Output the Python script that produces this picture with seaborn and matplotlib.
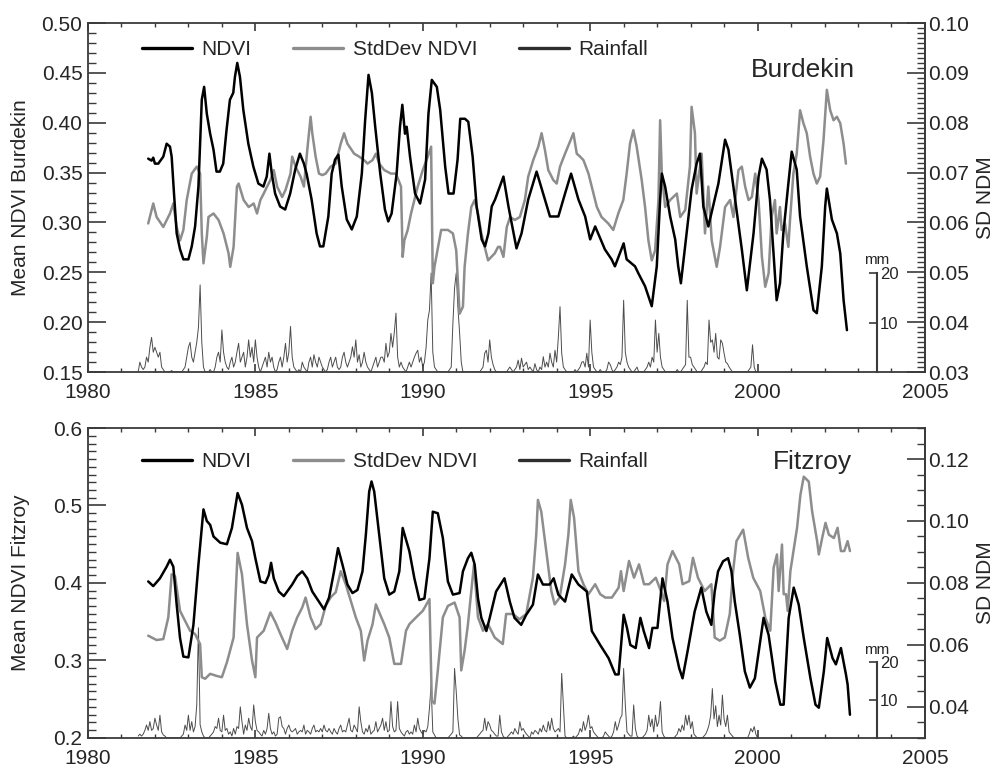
import numpy as np
import seaborn as sns
import matplotlib.pyplot as plt
from matplotlib.ticker import MultipleLocator, FormatStrFormatter
from matplotlib.lines import Line2D

sns.set_style('ticks')
plt.rcParams['font.family'] = ['Liberation Sans', 'DejaVu Sans']

# ---- Burdekin (top panel) ----
ndvi_burdekin = [
    (1981.80, 0.364), (1981.90, 0.362), (1981.95, 0.365), (1982.00, 0.359), (1982.10, 0.359),
    (1982.25, 0.366), (1982.35, 0.379), (1982.45, 0.376), (1982.50, 0.366), (1982.57, 0.329),
    (1982.65, 0.289), (1982.75, 0.273), (1982.85, 0.263), (1983.00, 0.263), (1983.10, 0.276),
    (1983.20, 0.296), (1983.30, 0.336), (1983.40, 0.423), (1983.47, 0.436), (1983.55, 0.409),
    (1983.65, 0.389), (1983.75, 0.373), (1983.84, 0.351), (1983.94, 0.351), (1984.04, 0.359),
    (1984.14, 0.393), (1984.24, 0.423), (1984.34, 0.430), (1984.39, 0.446), (1984.46, 0.460),
    (1984.54, 0.446), (1984.64, 0.413), (1984.79, 0.379), (1984.94, 0.356), (1985.09, 0.339),
    (1985.24, 0.336), (1985.34, 0.346), (1985.42, 0.369), (1985.49, 0.349), (1985.59, 0.329),
    (1985.74, 0.316), (1985.89, 0.313), (1986.04, 0.329), (1986.19, 0.353), (1986.33, 0.369),
    (1986.45, 0.359), (1986.53, 0.349), (1986.68, 0.323), (1986.83, 0.289), (1986.93, 0.276),
    (1987.03, 0.276), (1987.18, 0.306), (1987.28, 0.349), (1987.38, 0.363), (1987.48, 0.368),
    (1987.58, 0.336), (1987.73, 0.303), (1987.88, 0.293), (1988.03, 0.306), (1988.18, 0.349),
    (1988.28, 0.403), (1988.38, 0.448), (1988.48, 0.430), (1988.58, 0.396), (1988.73, 0.349),
    (1988.87, 0.313), (1988.97, 0.301), (1989.07, 0.309), (1989.22, 0.349), (1989.32, 0.396),
    (1989.39, 0.418), (1989.47, 0.389), (1989.52, 0.396), (1989.62, 0.366), (1989.77, 0.329),
    (1989.92, 0.319), (1990.07, 0.343), (1990.17, 0.409), (1990.27, 0.443), (1990.42, 0.436),
    (1990.52, 0.413), (1990.67, 0.356), (1990.77, 0.329), (1990.92, 0.329), (1991.04, 0.363),
    (1991.12, 0.404), (1991.26, 0.404), (1991.36, 0.401), (1991.49, 0.366), (1991.61, 0.316),
    (1991.76, 0.283), (1991.86, 0.276), (1991.96, 0.289), (1992.06, 0.316), (1992.16, 0.323),
    (1992.41, 0.346), (1992.56, 0.316), (1992.80, 0.274), (1992.95, 0.289), (1993.15, 0.323),
    (1993.40, 0.351), (1993.65, 0.323), (1993.80, 0.306), (1994.05, 0.306), (1994.25, 0.329),
    (1994.43, 0.349), (1994.65, 0.323), (1994.85, 0.306), (1995.00, 0.283), (1995.15, 0.296),
    (1995.44, 0.273), (1995.64, 0.263), (1995.74, 0.256), (1996.00, 0.279), (1996.09, 0.263),
    (1996.34, 0.256), (1996.44, 0.249), (1996.64, 0.236), (1996.84, 0.216), (1996.99, 0.256),
    (1997.09, 0.323), (1997.14, 0.349), (1997.24, 0.336), (1997.39, 0.306), (1997.54, 0.283),
    (1997.63, 0.256), (1997.71, 0.239), (1997.88, 0.289), (1998.03, 0.333), (1998.18, 0.359),
    (1998.28, 0.369), (1998.38, 0.316), (1998.53, 0.296), (1998.83, 0.339), (1999.03, 0.383),
    (1999.13, 0.373), (1999.33, 0.323), (1999.53, 0.273), (1999.68, 0.232), (1999.88, 0.289),
    (2000.03, 0.346), (2000.13, 0.364), (2000.27, 0.353), (2000.37, 0.323), (2000.47, 0.273),
    (2000.57, 0.222), (2000.67, 0.239), (2000.77, 0.289), (2000.92, 0.339), (2001.02, 0.371),
    (2001.17, 0.353), (2001.27, 0.306), (2001.47, 0.256), (2001.67, 0.212), (2001.77, 0.209),
    (2001.92, 0.256), (2002.02, 0.316), (2002.07, 0.334), (2002.22, 0.303), (2002.37, 0.289),
    (2002.47, 0.269), (2002.57, 0.222), (2002.67, 0.192),
]

sd_burdekin = [
    (1981.80, 0.0598), (1981.95, 0.0638), (1982.05, 0.0611), (1982.25, 0.0591), (1982.45, 0.0618),
    (1982.55, 0.0638), (1982.65, 0.0591), (1982.75, 0.0564), (1982.85, 0.0585), (1982.95, 0.0645),
    (1983.10, 0.0698), (1983.25, 0.0712), (1983.35, 0.0698), (1983.40, 0.0578), (1983.45, 0.0518),
    (1983.55, 0.0571), (1983.60, 0.0611), (1983.75, 0.0618), (1983.90, 0.0605), (1984.05, 0.0578),
    (1984.20, 0.0538), (1984.25, 0.0511), (1984.35, 0.0551), (1984.45, 0.0672), (1984.50, 0.0678),
    (1984.65, 0.0645), (1984.80, 0.0631), (1984.95, 0.0638), (1985.05, 0.0618), (1985.15, 0.0645),
    (1985.25, 0.0658), (1985.35, 0.0672), (1985.45, 0.0685), (1985.55, 0.0705), (1985.65, 0.0672),
    (1985.80, 0.0651), (1985.90, 0.0665), (1986.05, 0.0698), (1986.10, 0.0732), (1986.20, 0.0712),
    (1986.35, 0.0692), (1986.45, 0.0672), (1986.55, 0.0745), (1986.65, 0.0812), (1986.70, 0.0779),
    (1986.80, 0.0732), (1986.90, 0.0698), (1987.00, 0.0695), (1987.10, 0.0698), (1987.25, 0.0712),
    (1987.40, 0.0718), (1987.55, 0.0758), (1987.65, 0.0779), (1987.75, 0.0758), (1987.95, 0.0738),
    (1988.10, 0.0732), (1988.25, 0.0725), (1988.35, 0.0718), (1988.50, 0.0725), (1988.60, 0.0738),
    (1988.70, 0.0718), (1988.85, 0.0705), (1989.05, 0.0698), (1989.20, 0.0698), (1989.35, 0.0672),
    (1989.40, 0.0531), (1989.45, 0.0564), (1989.55, 0.0585), (1989.65, 0.0618), (1989.85, 0.0672),
    (1990.00, 0.0705), (1990.15, 0.0732), (1990.25, 0.0752), (1990.30, 0.0478), (1990.35, 0.0511),
    (1990.55, 0.0585), (1990.75, 0.0585), (1990.90, 0.0578), (1991.00, 0.0544), (1991.10, 0.0417),
    (1991.20, 0.0431), (1991.25, 0.0511), (1991.35, 0.0578), (1991.45, 0.0631), (1991.55, 0.0645),
    (1991.65, 0.0618), (1991.75, 0.0578), (1991.85, 0.0551), (1991.95, 0.0524), (1992.05, 0.0531),
    (1992.15, 0.0538), (1992.25, 0.0551), (1992.31, 0.0551), (1992.41, 0.0531), (1992.51, 0.0591),
    (1992.61, 0.0611), (1992.75, 0.0605), (1992.90, 0.0611), (1993.05, 0.0645), (1993.15, 0.0692),
    (1993.30, 0.0725), (1993.45, 0.0752), (1993.55, 0.0779), (1993.65, 0.0745), (1993.75, 0.0705),
    (1993.90, 0.0685), (1994.00, 0.0678), (1994.10, 0.0712), (1994.25, 0.0738), (1994.50, 0.0779),
    (1994.60, 0.0738), (1994.70, 0.0732), (1994.80, 0.0725), (1994.95, 0.0698), (1995.10, 0.0658),
    (1995.20, 0.0631), (1995.34, 0.0611), (1995.54, 0.0598), (1995.69, 0.0585), (1995.84, 0.0618),
    (1995.99, 0.0645), (1996.09, 0.0698), (1996.19, 0.0758), (1996.29, 0.0785), (1996.39, 0.0752),
    (1996.54, 0.0685), (1996.64, 0.0631), (1996.74, 0.0564), (1996.84, 0.0524), (1996.94, 0.0544),
    (1997.04, 0.0645), (1997.09, 0.0805), (1997.14, 0.0698), (1997.24, 0.0631), (1997.39, 0.0645),
    (1997.59, 0.0658), (1997.69, 0.0611), (1997.84, 0.0625), (1997.98, 0.0712), (1998.03, 0.0832),
    (1998.13, 0.0779), (1998.18, 0.0658), (1998.33, 0.0738), (1998.43, 0.0578), (1998.53, 0.0672),
    (1998.63, 0.0564), (1998.78, 0.0511), (1998.88, 0.0551), (1999.03, 0.0631), (1999.18, 0.0645),
    (1999.28, 0.0611), (1999.43, 0.0705), (1999.53, 0.0712), (1999.63, 0.0672), (1999.73, 0.0645),
    (1999.83, 0.0651), (1999.93, 0.0698), (2000.03, 0.0645), (2000.13, 0.0531), (2000.23, 0.0471),
    (2000.33, 0.0498), (2000.42, 0.0611), (2000.52, 0.0645), (2000.57, 0.0578), (2000.67, 0.0631),
    (2000.72, 0.0585), (2000.82, 0.0598), (2000.92, 0.0551), (2000.97, 0.0605), (2001.07, 0.0698),
    (2001.17, 0.0738), (2001.27, 0.0825), (2001.37, 0.0799), (2001.47, 0.0779), (2001.57, 0.0732),
    (2001.67, 0.0698), (2001.77, 0.0678), (2001.87, 0.0692), (2001.97, 0.0765), (2002.07, 0.0866),
    (2002.17, 0.0825), (2002.27, 0.0805), (2002.37, 0.0812), (2002.47, 0.0799), (2002.57, 0.0758),
    (2002.64, 0.0718),
]

# rainfall in mm, one value every 0.05 yr from 1981.50 to 2000.00
rain_burdekin = [
    0, 2, 1, 0.5, 1, 3, 2, 5, 7, 4,
    5, 4, 3, 4, 1, 0.5, 0, 0, 0, 0, 0.3, 0, 0, 0, 0, 0, 0, 0.5, 1, 3,
    5, 6, 3, 2, 4, 6, 9, 17.6, 6, 1, 0, 0, 0, 0.5, 0, 0, 1, 3, 4, 2,
    8.5, 4, 2, 1, 0.5, 2, 3, 1, 2, 4, 5.8, 2, 3, 4, 1, 3, 6.5, 3, 5, 2,
    6.5, 3, 1, 0, 1, 2, 3, 1, 4, 2, 3, 1, 0, 0.5, 2, 3, 1, 3, 5.8, 2,
    4, 9.2, 3, 1, 0.5, 0, 0.5, 0, 2, 1, 0.5, 0, 2, 3, 1, 3.5, 2, 1, 3, 2,
    1, 0.5, 0, 0.5, 2, 3, 1, 2, 3, 1, 0.5, 1, 3, 4, 2, 1, 2, 3, 5.1, 3,
    6.5, 2, 3.5, 1, 2, 4, 2, 1, 0.5, 0, 1, 2, 3, 1, 2, 3, 3, 2, 5.8, 3,
    4, 7.8, 5, 8, 11.9, 3, 1, 2, 1, 0.5, 0, 1, 2, 1, 2, 3, 3.8, 4.4, 2, 3,
    1, 2, 5, 10.5, 12.5, 20, 4, 1, 0.5, 0, 0, 0, 0, 0, 0, 0, 0.5, 1, 9.8, 17,
    20, 13, 8, 2, 0, 0, 0, 0, 0, 0, 0, 0, 0, 0, 0, 0.5, 1, 3.8, 4.4, 2,
    6.5, 3, 1.5, 0.5, 0, 0, 0, 0, 0, 0, 0, 0.5, 1, 0.5, 0, 0.5, 1, 2.4, 0.5, 2.8,
    1, 1.5, 2, 0.5, 1, 0.5, 0, 1.7, 0.5, 0, 1, 0.5, 3.1, 1, 2, 1, 3.8, 2, 1, 4.4,
    2, 7.1, 13.2, 3.8, 1, 0.5, 0, 0, 0, 0, 0, 0.5, 0, 0.5, 1, 2, 2.1, 1, 3.8, 1,
    10.5, 4, 1, 0.5, 0, 0, 0.5, 0, 0, 0, 0.5, 2, 1.5, 0.5, 0, 0.5, 1, 2, 1.5, 3,
    14.5, 4, 2, 1, 0.5, 0, 0, 0.5, 1, 0, 0, 0, 0, 0.5, 1, 2, 1, 3, 2, 10.5,
    4, 7.8, 3, 1, 0.5, 0, 0, 0, 0, 0, 0, 0, 0.5, 0, 0, 0.5, 1, 1.5, 14.5, 3,
    3, 1.5, 1, 0.5, 0, 0, 0, 0.5, 1, 2, 1.5, 10.5, 6, 6.5, 4, 7.8, 3, 2.6, 6.5, 5.8,
    3.8, 2, 1.7, 1, 0.5, 0, 0, 0, 0, 0, 0, 0, 0, 0, 0, 0.5, 1, 5.5, 1, 0,
    0,
]

# ---- Fitzroy (bottom panel) ----
ndvi_fitzroy = [
    (1981.80, 0.402), (1981.95, 0.396), (1982.15, 0.406), (1982.35, 0.421), (1982.45, 0.430),
    (1982.55, 0.421), (1982.65, 0.372), (1982.75, 0.329), (1982.85, 0.305), (1983.00, 0.304),
    (1983.15, 0.346), (1983.30, 0.424), (1983.45, 0.495), (1983.55, 0.480), (1983.65, 0.475),
    (1983.75, 0.460), (1983.95, 0.452), (1984.15, 0.450), (1984.30, 0.471), (1984.47, 0.516),
    (1984.60, 0.501), (1984.75, 0.471), (1984.90, 0.454), (1985.00, 0.432), (1985.15, 0.402),
    (1985.30, 0.400), (1985.40, 0.410), (1985.47, 0.426), (1985.55, 0.406), (1985.70, 0.389),
    (1985.85, 0.383), (1985.95, 0.389), (1986.10, 0.398), (1986.25, 0.409), (1986.40, 0.415),
    (1986.55, 0.406), (1986.70, 0.389), (1986.90, 0.376), (1987.05, 0.366), (1987.20, 0.381),
    (1987.35, 0.415), (1987.47, 0.445), (1987.60, 0.424), (1987.75, 0.398), (1987.90, 0.387),
    (1988.05, 0.391), (1988.20, 0.415), (1988.30, 0.462), (1988.40, 0.518), (1988.47, 0.531),
    (1988.55, 0.518), (1988.70, 0.462), (1988.85, 0.406), (1989.00, 0.385), (1989.15, 0.389),
    (1989.30, 0.415), (1989.40, 0.471), (1989.50, 0.456), (1989.60, 0.441), (1989.75, 0.406),
    (1989.90, 0.378), (1990.05, 0.380), (1990.20, 0.432), (1990.30, 0.492), (1990.45, 0.490),
    (1990.60, 0.458), (1990.75, 0.402), (1990.90, 0.385), (1991.10, 0.387), (1991.20, 0.415),
    (1991.35, 0.432), (1991.45, 0.439), (1991.55, 0.424), (1991.65, 0.380), (1991.75, 0.355),
    (1991.90, 0.338), (1992.00, 0.355), (1992.19, 0.389), (1992.44, 0.406), (1992.60, 0.376),
    (1992.74, 0.355), (1992.94, 0.346), (1993.09, 0.359), (1993.29, 0.372), (1993.44, 0.411),
    (1993.59, 0.398), (1993.79, 0.398), (1993.91, 0.406), (1994.05, 0.385), (1994.25, 0.376),
    (1994.45, 0.411), (1994.65, 0.398), (1994.90, 0.389), (1995.05, 0.338), (1995.30, 0.320),
    (1995.55, 0.303), (1995.75, 0.282), (1995.85, 0.282), (1996.00, 0.359), (1996.10, 0.342),
    (1996.20, 0.320), (1996.36, 0.316), (1996.50, 0.355), (1996.60, 0.338), (1996.76, 0.316),
    (1996.86, 0.342), (1997.01, 0.342), (1997.16, 0.406), (1997.31, 0.376), (1997.46, 0.329),
    (1997.66, 0.290), (1997.76, 0.277), (1997.91, 0.312), (1998.12, 0.363), (1998.32, 0.394),
    (1998.47, 0.363), (1998.62, 0.346), (1998.72, 0.389), (1998.82, 0.415), (1998.97, 0.428),
    (1999.12, 0.432), (1999.22, 0.415), (1999.32, 0.376), (1999.47, 0.333), (1999.62, 0.286),
    (1999.77, 0.265), (1999.92, 0.277), (2000.08, 0.325), (2000.18, 0.355), (2000.33, 0.333),
    (2000.53, 0.273), (2000.68, 0.243), (2000.78, 0.243), (2000.93, 0.355), (2001.08, 0.394),
    (2001.23, 0.372), (2001.38, 0.329), (2001.58, 0.277), (2001.73, 0.243), (2001.83, 0.239),
    (2001.98, 0.286), (2002.08, 0.329), (2002.24, 0.303), (2002.34, 0.295), (2002.49, 0.316),
    (2002.64, 0.282), (2002.69, 0.269), (2002.76, 0.230),
]

sd_fitzroy = [
    (1981.80, 0.0630), (1982.05, 0.0616), (1982.25, 0.0619), (1982.40, 0.0689), (1982.50, 0.0828),
    (1982.60, 0.0822), (1982.75, 0.0710), (1982.90, 0.0678), (1983.05, 0.0646), (1983.20, 0.0635),
    (1983.35, 0.0603), (1983.40, 0.0496), (1983.50, 0.0491), (1983.65, 0.0507), (1983.85, 0.0500),
    (1984.00, 0.0496), (1984.15, 0.0544), (1984.35, 0.0624), (1984.47, 0.0897), (1984.60, 0.0828),
    (1984.75, 0.0667), (1984.90, 0.0550), (1985.00, 0.0496), (1985.05, 0.0624), (1985.25, 0.0646),
    (1985.45, 0.0705), (1985.60, 0.0673), (1985.75, 0.0635), (1985.95, 0.0587), (1986.10, 0.0646),
    (1986.25, 0.0689), (1986.40, 0.0721), (1986.50, 0.0753), (1986.65, 0.0689), (1986.80, 0.0651),
    (1986.95, 0.0667), (1987.10, 0.0726), (1987.25, 0.0754), (1987.40, 0.0770), (1987.55, 0.0838),
    (1987.70, 0.0796), (1987.85, 0.0742), (1988.00, 0.0689), (1988.15, 0.0646), (1988.25, 0.0550),
    (1988.35, 0.0614), (1988.50, 0.0667), (1988.60, 0.0731), (1988.70, 0.0705), (1988.85, 0.0667),
    (1989.00, 0.0624), (1989.15, 0.0539), (1989.35, 0.0539), (1989.50, 0.0646), (1989.60, 0.0667),
    (1989.80, 0.0689), (1990.00, 0.0710), (1990.20, 0.0748), (1990.27, 0.0420), (1990.35, 0.0411),
    (1990.45, 0.0518), (1990.60, 0.0689), (1990.75, 0.0726), (1990.95, 0.0737), (1991.10, 0.0689),
    (1991.15, 0.0518), (1991.25, 0.0582), (1991.35, 0.0667), (1991.45, 0.0774), (1991.53, 0.0860),
    (1991.65, 0.0689), (1991.80, 0.0646), (1991.95, 0.0667), (1992.15, 0.0624), (1992.39, 0.0603),
    (1992.49, 0.0700), (1992.69, 0.0700), (1992.89, 0.0683), (1993.09, 0.0700), (1993.29, 0.0817),
    (1993.39, 0.0956), (1993.44, 0.1068), (1993.54, 0.1030), (1993.69, 0.0903), (1993.84, 0.0774),
    (1993.94, 0.0731), (1994.09, 0.0753), (1994.25, 0.0860), (1994.35, 0.0956), (1994.42, 0.1068),
    (1994.52, 0.1010), (1994.65, 0.0838), (1994.80, 0.0796), (1994.95, 0.0764), (1995.15, 0.0796),
    (1995.30, 0.0764), (1995.45, 0.0753), (1995.65, 0.0753), (1995.85, 0.0785), (1995.92, 0.0838),
    (1996.00, 0.0774), (1996.16, 0.0871), (1996.31, 0.0817), (1996.46, 0.0860), (1996.61, 0.0796),
    (1996.76, 0.0796), (1996.96, 0.0817), (1997.11, 0.0774), (1997.21, 0.0742), (1997.31, 0.0860),
    (1997.46, 0.0903), (1997.66, 0.0860), (1997.76, 0.0796), (1997.96, 0.0806), (1998.07, 0.0881),
    (1998.22, 0.0817), (1998.42, 0.0774), (1998.62, 0.0796), (1998.72, 0.0624), (1998.87, 0.0614),
    (1999.02, 0.0624), (1999.17, 0.0700), (1999.27, 0.0838), (1999.37, 0.0935), (1999.57, 0.0972),
    (1999.72, 0.0881), (1999.87, 0.0817), (2000.08, 0.0774), (2000.23, 0.0689), (2000.38, 0.0646),
    (2000.48, 0.0849), (2000.58, 0.0892), (2000.63, 0.0774), (2000.73, 0.0924), (2000.78, 0.0764),
    (2000.85, 0.0764), (2000.90, 0.0710), (2000.98, 0.0838), (2001.18, 0.0978), (2001.28, 0.1084),
    (2001.38, 0.1143), (2001.53, 0.1127), (2001.63, 0.1031), (2001.78, 0.0935), (2001.83, 0.0892),
    (2001.93, 0.0945), (2002.03, 0.0994), (2002.13, 0.0956), (2002.28, 0.0945), (2002.39, 0.0978),
    (2002.49, 0.0903), (2002.59, 0.0903), (2002.69, 0.0935), (2002.76, 0.0903),
]

rain_fitzroy = [
    0.5, 1, 0.5, 1, 2, 3.4, 2, 4.3, 2, 2.5,
    5.2, 3.4, 2, 6, 1.6, 0.8, 0.5, 0, 0, 0, 0, 0, 0, 0, 0, 0, 0.5, 1, 3.4, 2,
    6, 2, 4.3, 1.6, 3, 8.7, 29, 3.5, 1.6, 0.5, 0, 0, 0, 0.5, 1, 1.6, 3, 2.5, 5.2, 2,
    1.6, 6, 2, 2.5, 1, 1.6, 0.5, 2.5, 1, 3, 2.5, 8.2, 4.3, 1, 3.4, 2, 5.2, 3, 2, 8.7,
    4.3, 2, 1.6, 1, 0.5, 2, 1, 2.5, 6.5, 2.5, 1, 1.6, 0.5, 1, 5.2, 5.6, 3, 2.5, 1, 2.5,
    3.4, 2, 1.6, 2, 2.5, 1, 1.6, 2, 1.6, 3.4, 1, 2, 1.6, 1, 2.5, 3.4, 1.6, 2, 1.6, 2.5,
    1.6, 3.4, 2, 1.6, 2.5, 1.6, 1, 2.5, 1.6, 1, 2.5, 3.4, 1.6, 2, 1.6, 3.4, 5.2, 2, 1.6, 3.4,
    2.5, 1.6, 8.2, 4.3, 1.6, 1, 2.5, 1.6, 3.4, 1, 1.6, 2, 4.3, 1.6, 2.5, 3.4, 5.2, 2, 4.3, 1.6,
    2, 9.6, 3, 1.6, 2, 9.6, 2.5, 1.6, 1, 0.5, 1.6, 2, 1, 1.6, 1, 3.4, 1.6, 5.2, 2.5, 1.6,
    1, 2, 1.6, 3, 7.8, 14, 1.6, 0.8, 0, 0, 0, 0, 0, 0, 0, 0, 0.5, 1, 1.6, 18.3,
    12.2, 5, 0.8, 0.5, 0, 0, 0, 0, 0, 0, 0, 0, 0, 0.5, 1, 1.6, 2, 5.2, 2, 4.3,
    3.4, 2, 1.6, 1, 0.5, 0.5, 6, 1.6, 0.5, 0, 0, 0.5, 1, 1.6, 1, 2.5, 1.6, 1, 4.3, 2,
    2.5, 1.6, 1, 0.5, 0, 1.6, 1, 2, 1.6, 1, 2.5, 1.6, 3.4, 2, 1.6, 4.3, 2, 5.2, 2.5, 1.6,
    2, 2.5, 1.6, 17, 8.7, 0.5, 0, 0, 0, 0, 0.5, 0, 0.5, 1, 2.5, 1.6, 4.3, 2, 3.4, 6,
    2.5, 3, 1.6, 1, 0.5, 0, 0, 0, 0.5, 1.6, 1, 0.5, 0, 0.5, 1.6, 4.3, 2, 3.4, 5.2, 6,
    18.3, 8.7, 1.6, 1, 0.5, 0.5, 8.7, 2.5, 0.5, 0, 0, 0, 0.5, 1, 2, 6, 3, 5, 1.6, 6,
    3, 4.3, 9.6, 1.6, 0.5, 0, 0, 0, 0, 0, 0, 0.5, 1, 2.5, 1.6, 3.4, 2, 6, 3.4, 6,
    2.5, 4.3, 1, 0.5, 0, 0, 0, 0, 0.5, 1, 2, 3.4, 6, 13, 5, 8.5, 3, 6, 3.4, 11.3,
    5, 3, 6, 1.6, 1, 0.5, 0, 0, 0, 0, 0, 0, 0, 0, 0, 1, 2.5, 1.6, 3, 1,
    0,
]

rain_years = np.round(1981.5 + 0.05 * np.arange(len(rain_burdekin)), 2)

NDVI_COLOR = 'black'
SD_COLOR = '#8d8d8d'
RAIN_COLOR = '#4d4d4d'
FRAME = '#3a3a3a'


def draw_panel(rect, ndvi, sd, rain, name, ndvi_lim, ndvi_major, ndvi_fmt,
               sd_lim, sd_major, sd_minor, rain_top, name_xy, legend_y):
    ax = fig.add_axes(rect)
    ax_rain = ax.twinx()
    ax_sd = ax.twinx()
    ax.set_zorder(3)
    ax.patch.set_visible(False)
    ax_sd.set_zorder(2)
    ax_rain.set_zorder(1)

    yrs, vals = zip(*ndvi)
    sd_yrs, sd_vals = zip(*sd)
    sns.lineplot(x=rain_years, y=rain, ax=ax_rain, color=RAIN_COLOR,
                 linewidth=0.7, estimator=None)
    sns.lineplot(x=list(sd_yrs), y=list(sd_vals), ax=ax_sd, color=SD_COLOR,
                 linewidth=1.8, estimator=None)
    sns.lineplot(x=list(yrs), y=list(vals), ax=ax, color=NDVI_COLOR,
                 linewidth=1.8, estimator=None)

    ax.set_xlim(1980, 2005)
    ax.set_ylim(*ndvi_lim)
    ax_sd.set_ylim(*sd_lim)
    ax_rain.set_ylim(0, rain_top)

    ax.xaxis.set_major_locator(MultipleLocator(5))
    ax.xaxis.set_minor_locator(MultipleLocator(1))
    ax.yaxis.set_major_locator(MultipleLocator(ndvi_major))
    ax.yaxis.set_minor_locator(MultipleLocator(0.01))
    ax.yaxis.set_major_formatter(FormatStrFormatter(ndvi_fmt))
    ax.tick_params(which='both', direction='in', top=True, bottom=True,
                   left=True, right=False, color=FRAME, labelsize=15)
    ax.tick_params(axis='x', which='major', length=5.5, width=1.2, pad=8)
    ax.tick_params(axis='x', which='minor', length=3, width=1.0)
    ax.tick_params(axis='y', which='major', length=13, width=1.2, pad=4)
    ax.tick_params(axis='y', which='minor', length=6, width=1.0)

    ax_sd.yaxis.set_major_locator(MultipleLocator(sd_major))
    ax_sd.yaxis.set_minor_locator(MultipleLocator(sd_minor))
    ax_sd.yaxis.set_major_formatter(FormatStrFormatter('%.2f'))
    ax_sd.tick_params(axis='y', which='both', direction='in', color=FRAME,
                      labelsize=15, pad=2)
    ax_sd.tick_params(axis='y', which='major', length=13, width=1.2)
    ax_sd.tick_params(axis='y', which='minor', length=6, width=1.0)

    for side in ['top', 'bottom', 'left', 'right']:
        ax.spines[side].set_color(FRAME)
        ax.spines[side].set_linewidth(1.3)
    for side in ['top', 'bottom', 'left']:
        ax_sd.spines[side].set_visible(False)
        ax_rain.spines[side].set_visible(False)
    ax_sd.spines['right'].set_color(FRAME)
    ax_sd.spines['right'].set_linewidth(1.3)

    # small rainfall scale bar inside the panel
    ax_rain.spines['right'].set_position(('data', 2003.57))
    ax_rain.spines['right'].set_bounds(0, 20)
    ax_rain.spines['right'].set_color(FRAME)
    ax_rain.spines['right'].set_linewidth(1.5)
    ax_rain.set_yticks([10, 20])
    ax_rain.tick_params(axis='y', direction='in', length=6, width=1.2,
                        color=FRAME, labelsize=12, pad=2)
    ax_rain.text(2003.55, 21.3, 'mm', ha='center', va='bottom', fontsize=11)
    ax_rain.set_ylabel('')

    ax.set_xlabel('')
    ax.set_ylabel('Mean NDVI ' + name, fontsize=15)
    ax.yaxis.set_label_coords(-0.069, 0.5)
    ax_sd.set_ylabel('SD NDM', fontsize=15)
    ax_sd.yaxis.set_label_coords(1.061, 0.5)

    ax.text(name_xy[0], name_xy[1], name, transform=ax.transAxes,
            fontsize=19, ha='center', va='center')

    handles = [Line2D([], [], color=NDVI_COLOR, lw=2.4),
               Line2D([], [], color=SD_COLOR, lw=2.4),
               Line2D([], [], color='#2e2e2e', lw=2.4)]
    ax.legend(handles, ['NDVI', 'StdDev NDVI', 'Rainfall'], loc='upper left',
              bbox_to_anchor=(0.055, legend_y), ncol=3, frameon=False,
              fontsize=15, handlelength=2.4, handletextpad=0.45,
              columnspacing=2.0, borderaxespad=0)
    return ax


fig = plt.figure(figsize=(9.95, 7.68), dpi=100)

draw_panel([0.0884, 0.5156, 0.8412, 0.4544], ndvi_burdekin, sd_burdekin,
           rain_burdekin, 'Burdekin', (0.15, 0.50), 0.05, '%.2f',
           (0.03, 0.10), 0.01, 0.001, 70.5, (0.854, 0.865), 0.975)
draw_panel([0.0884, 0.0391, 0.8412, 0.4036], ndvi_fitzroy, sd_fitzroy,
           rain_fitzroy, 'Fitzroy', (0.2, 0.6), 0.1, '%.1f',
           (0.03, 0.13), 0.02, 0.005, 81.6, (0.865, 0.89), 0.95)

fig.savefig('out.png', dpi=100, facecolor='white')
